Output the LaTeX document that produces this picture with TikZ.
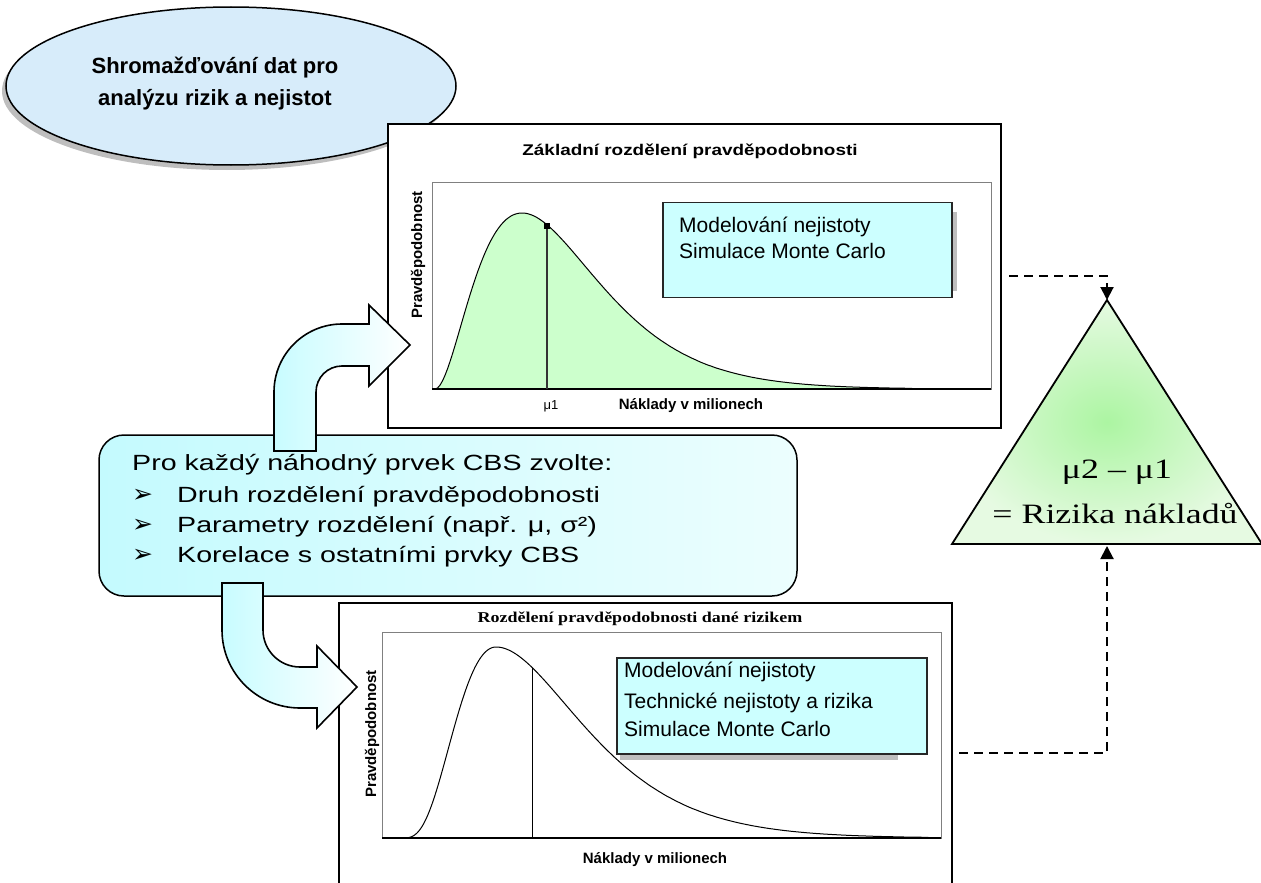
\documentclass[tikz,border=0pt]{standalone}
\usepackage{fontspec}
\setmainfont{Liberation Sans}
\newfontfamily\serifface{Liberation Serif}
\newfontfamily\wideserif[FakeStretch=1.28]{Liberation Serif}
\newfontfamily\titleserif[FakeStretch=1.2]{Liberation Serif}
\newfontfamily\widesans[FakeStretch=1.3]{Liberation Sans}
\newfontfamily\titlesans[FakeStretch=1.22]{Liberation Sans}
\newfontfamily\dingface{DejaVu Sans}
\usetikzlibrary{arrows.meta,shapes.geometric}
\definecolor{ellfill}{RGB}{215,236,250}
\definecolor{legcyan}{RGB}{204,255,255}
\definecolor{curvegreen}{RGB}{204,255,204}
\definecolor{shadowgray}{RGB}{190,190,190}
\definecolor{arrcyan}{RGB}{200,252,255}
\definecolor{boxleft}{RGB}{196,250,254}
\definecolor{boxright}{RGB}{236,254,254}
\definecolor{triinner}{RGB}{172,245,162}
\definecolor{triouter}{RGB}{230,250,226}
\newcommand\pxfont[2]{\fontsize{#1}{#2}\selectfont}
\newcommand\bul{\makebox[45pt][l]{\dingface\pxfont{25}{25}\char"27A2}}
% gamma-shaped density profiles
\tikzset{declare function={
  gtop(\x)=389-176*((\x-435)/87)^2*exp(-2*((\x-435)/87-1));
  gbotl(\x)=838-191*((\x-400)/96)^4*exp(-4*((\x-400)/96-1));
  gbotr(\x)=838-191*((\x-400)/96)^2*exp(-2*((\x-400)/96-1));
}}
\begin{document}
\begin{tikzpicture}[x=1pt,y=-1pt,
  frame/.style={draw=black,line width=1.2pt,fill=white,inner sep=0pt},
  plotframe/.style={draw=black!50,line width=0.9pt},
  legend/.style={draw=black!85,line width=1.2pt,fill=legcyan,inner sep=0pt},
  lbl/.style={inner sep=0pt},
  axislbl/.style={inner sep=0pt,font=\bfseries\pxfont{15}{15}},
  legtxt/.style={inner sep=0pt,anchor=base west,font=\pxfont{21}{21}},
  boxtxt/.style={inner sep=0pt,anchor=base west,font=\widesans\pxfont{22}{22}},
  conn/.style={draw=black,line width=2pt,dash pattern=on 9pt off 6pt,
    -{Triangle[length=13pt,width=13pt]}},
  blockarrow/.style={draw=black,line width=1.6pt,left color=arrcyan,right color=white},
]
\useasboundingbox (0,0) rectangle (1261,883);

% ---- data gathering ellipse ----
\node[ellipse,fill=shadowgray,minimum width=450pt,minimum height=158pt,inner sep=0pt]
  (gathershadow) at (227,91) {};
\node[ellipse,draw,line width=1.5pt,fill=ellfill,minimum width=450pt,minimum height=158pt,
  inner sep=0pt] (gather) at (231,86) {};
\node[lbl,align=center,font=\bfseries\pxfont{22}{32}] (gathertext) at (215,84)
  {Shromažďování dat pro\\analýzu rizik a nejistot};

% ---- basic distribution chart ----
\node[frame,minimum width=613pt,minimum height=304pt] (chartA) at (694.5,276) {};
\node[lbl,anchor=base,font=\titlesans\bfseries\pxfont{15.5}{15.5}] (titleA) at (690,155)
  {Základní rozdělení pravděpodobnosti};
\draw[plotframe] (432,182) rectangle (991,389);
\fill[curvegreen] plot[domain=435:990,samples=220] (\x,{gtop(\x)}) -- cycle;
\draw[line width=1pt] plot[domain=435:990,samples=220] (\x,{gtop(\x)});
\draw[line width=1.6pt] (432,389) -- (991,389);
\draw[line width=1.2pt,black!80] (547,226) -- (547,389);
\fill (544,223) rectangle (550,229);
\fill[shadowgray] (667,212) rectangle (957,291);
\node[legend,minimum width=289pt,minimum height=95pt] (legA) at (807.5,250) {};
\node[legtxt] (legA1) at (679,232) {Modelování nejistoty};
\node[legtxt] (legA2) at (679,258) {Simulace Monte Carlo};
\node[axislbl,rotate=90] (ylabA) at (418,255) {Pravděpodobnost};
\node[lbl,anchor=base,font=\pxfont{13}{13}] (muA) at (551,409) {μ1};
\node[axislbl,anchor=base] (xlabA) at (691,409) {Náklady v milionech};

% ---- risk-driven distribution chart ----
\node[frame,minimum width=613pt,minimum height=300pt] (chartB) at (645.5,753) {};
\node[lbl,anchor=base,font=\titleserif\bfseries\pxfont{15}{15}] (titleB) at (640,622)
  {Rozdělení pravděpodobnosti dané rizikem};
\draw[plotframe] (382,632) rectangle (941,838);
\draw[line width=1pt] (384,838) -- plot[domain=400:496,samples=80] (\x,{gbotl(\x)})
  -- plot[domain=496:941,samples=200] (\x,{gbotr(\x)});
\draw[line width=1.6pt] (382,838) -- (941,838);
\draw[line width=1pt] (532,668) -- (532,837);
\fill[shadowgray] (620,700) rectangle (898,760);
\node[legend,minimum width=310pt,minimum height=96pt] (legB) at (772,706) {};
\node[legtxt] (legB1) at (624,677) {Modelování nejistoty};
\node[legtxt] (legB2) at (624,708) {Technické nejistoty a rizika};
\node[legtxt] (legB3) at (624,736) {Simulace Monte Carlo};
\node[axislbl,rotate=90] (ylabB) at (372,734) {Pravděpodobnost};
\node[axislbl,anchor=base] (xlabB) at (655,863) {Náklady v milionech};

% ---- cost risk triangle ----
\coordinate (triTop) at (1107,300);
\coordinate (triLeft) at (952,544);
\coordinate (triRight) at (1262,544);
\coordinate (triBase) at (1107,546);
\shade[inner color=triinner,outer color=triouter] (triTop) -- (triRight) -- (triLeft) -- cycle;
\draw[line width=1.8pt,line join=miter] (triTop) -- (triRight) -- (triLeft) -- cycle;
\node[lbl,anchor=base,font=\wideserif\pxfont{28}{28}] (diff) at (1117,478) {μ2 – μ1};
\node[lbl,anchor=base,font=\wideserif\pxfont{28}{28}] (risk) at (1115,523) {= Rizika nákladů};

% ---- dashed connectors ----
\coordinate (outA) at (1009,276);
\coordinate (outB) at (959,753);
\draw[conn] (outA) -| (triTop);
\draw[conn] (outB) -| (triBase);

% ---- selection box ----
\node[draw,line width=1.5pt,rounded corners=25pt,left color=boxleft,right color=boxright,
  minimum width=698pt,minimum height=161pt,inner sep=0pt] (choose) at (448,515.5) {};
\node[boxtxt] (chooseHead) at (132,470) {Pro každý náhodný prvek CBS zvolte:};
\node[boxtxt] (chooseA) at (132,502) {\bul Druh rozdělení pravděpodobnosti};
\node[boxtxt] (chooseB) at (132,532) {\bul Parametry rozdělení (např. μ, σ²)};
\node[boxtxt] (chooseC) at (132,562) {\bul Korelace s ostatními prvky CBS};

% ---- bent block arrows ----
\draw[blockarrow] (274,451) -- (274,392) .. controls (274,354.5) and (304.5,324) .. (342,324)
  -- (369,324) -- (369,305) -- (410,345) -- (369,386) -- (369,366) -- (342,366)
  .. controls (327.6,366) and (316,377.6) .. (316,392) -- (316,451) -- cycle;
\draw[blockarrow] (222,583) -- (263,583) -- (263,630) .. controls (263,650.4) and (279.6,667) ..
  (300,667) -- (317,667) -- (317,646) -- (357,687) -- (317,728) -- (317,708) -- (300,708)
  .. controls (257,708) and (222,673) .. (222,630) -- cycle;
\end{tikzpicture}
\end{document}
